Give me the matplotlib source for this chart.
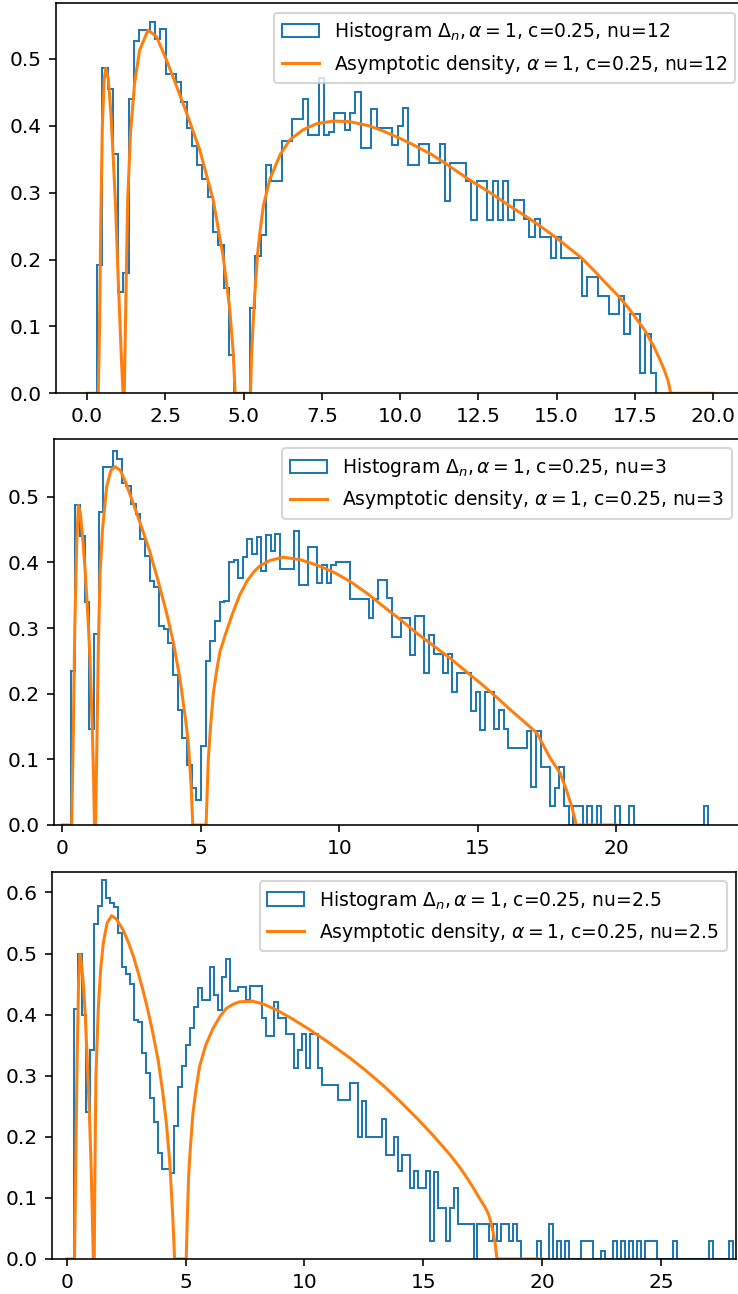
import numpy as np
import matplotlib
matplotlib.use("Agg")
import matplotlib.pyplot as plt

# ---------------- data ----------------
# Panel 1 (nu=12)
hist1_range = (0.32, 18.17)
hist1_heights = [
    0.192, 0.486, 0.455, 0.357, 0.151, 0.18, 0.44, 0.526, 0.543, 0.543,
    0.555, 0.53, 0.545, 0.478, 0.478, 0.465, 0.436, 0.396, 0.369, 0.342,
    0.32, 0.294, 0.241, 0.222, 0.158, 0.058, 0.0, 0.0, 0.0, 0.127,
    0.205, 0.236, 0.342, 0.317, 0.317, 0.377, 0.377, 0.41, 0.41, 0.44,
    0.386, 0.386, 0.471, 0.386, 0.39, 0.419, 0.419, 0.394, 0.419, 0.45,
    0.366, 0.366, 0.425, 0.397, 0.397, 0.397, 0.371, 0.40, 0.427, 0.342,
    0.342, 0.372, 0.372, 0.344, 0.344, 0.372, 0.288, 0.345, 0.345, 0.345,
    0.317, 0.259, 0.317, 0.317, 0.259, 0.317, 0.259, 0.317, 0.259, 0.289,
    0.289, 0.26, 0.233, 0.26, 0.233, 0.233, 0.202, 0.233, 0.203, 0.203,
    0.203, 0.203, 0.146, 0.174, 0.174, 0.146, 0.146, 0.118, 0.118, 0.146,
    0.088, 0.118, 0.118, 0.031, 0.088, 0.031,
]
dens1_x = [0.0, 0.36, 0.40, 0.44, 0.49, 0.55, 0.60, 0.68, 0.76, 0.84, 0.92, 0.98,
           1.04, 1.10, 1.15, 1.19, 1.25, 1.30, 1.39, 1.52, 1.68, 1.95, 2.22, 2.54,
           2.86, 3.18, 3.60, 4.03, 4.35, 4.56, 4.67, 4.73, 5.22, 5.25, 5.30, 5.36,
           5.45, 5.52, 5.63, 5.84, 6.17, 6.48, 6.90, 7.33, 7.86, 8.40, 9.00, 9.46,
           10.0, 10.52, 11.0, 11.37, 12.12, 12.87, 13.5, 14.0, 14.5, 15.0, 15.4, 15.8,
           16.2, 16.6, 17.0, 17.3, 17.8, 18.1, 18.3, 18.45, 18.56, 18.64, 20.0]
dens1_y = [0.0, 0.0, 0.10, 0.26, 0.40, 0.47, 0.486, 0.47, 0.42, 0.35, 0.27, 0.19,
           0.12, 0.05, 0.0, 0.0, 0.165, 0.29, 0.39, 0.464, 0.513, 0.543, 0.533, 0.498,
           0.459, 0.419, 0.364, 0.289, 0.204, 0.125, 0.06, 0.0, 0.0, 0.05, 0.10, 0.15,
           0.21, 0.24, 0.28, 0.32, 0.357, 0.379, 0.394, 0.403, 0.407, 0.406, 0.400, 0.392,
           0.381, 0.369, 0.357, 0.346, 0.322, 0.300, 0.28, 0.265, 0.249, 0.232, 0.217, 0.202,
           0.183, 0.163, 0.144, 0.127, 0.095, 0.07, 0.05, 0.033, 0.018, 0.0, 0.0]

# Panel 2 (nu=3)
hist2_range = (0.30, 23.32)
hist2_heights = [
    0.234, 0.488, 0.441, 0.34, 0.146, 0.291, 0.477, 0.545, 0.545, 0.57,
    0.557, 0.521, 0.516, 0.489, 0.474, 0.435, 0.41, 0.372, 0.363, 0.303,
    0.298, 0.278, 0.229, 0.175, 0.133, 0.092, 0.056, 0.038, 0.12, 0.25,
    0.28, 0.311, 0.34, 0.341, 0.40, 0.403, 0.377, 0.408, 0.435, 0.413,
    0.438, 0.387, 0.442, 0.417, 0.444, 0.39, 0.39, 0.39, 0.448, 0.366,
    0.366, 0.423, 0.423, 0.368, 0.396, 0.368, 0.396, 0.401, 0.401, 0.401,
    0.345, 0.345, 0.345, 0.345, 0.315, 0.345, 0.373, 0.373, 0.346, 0.287,
    0.287, 0.316, 0.316, 0.259, 0.318, 0.318, 0.231, 0.289, 0.26, 0.26,
    0.231, 0.26, 0.202, 0.231, 0.231, 0.231, 0.174, 0.202, 0.145, 0.202,
    0.202, 0.146, 0.175, 0.146, 0.117, 0.117, 0.117, 0.117, 0.143, 0.058,
    0.143, 0.088, 0.088, 0.029, 0.057, 0.088, 0.029, 0.0, 0.029, 0.029,
    0.0, 0.029, 0.0, 0.029, 0.0, 0.0, 0.0, 0.029, 0.0, 0.0,
    0.029, 0.0, 0.0, 0.0, 0.0, 0.0, 0.0, 0.0, 0.0, 0.0,
    0.0, 0.0, 0.0, 0.0, 0.0, 0.0, 0.029,
]
dens2_x = [0.0, 0.34, 0.40, 0.45, 0.52, 0.58, 0.65, 0.73, 0.82, 0.92, 1.00, 1.08,
           1.13, 1.16, 1.20, 1.24, 1.30, 1.36, 1.45, 1.60, 1.75, 1.90, 2.10, 2.30,
           2.56, 2.85, 3.17, 3.47, 3.77, 4.00, 4.25, 4.45, 4.55, 4.65, 4.71, 5.19,
           5.23, 5.27, 5.35, 5.45, 5.57, 5.69, 5.90, 6.17, 6.40, 6.66, 6.90, 7.14,
           7.50, 7.98, 8.60, 9.18, 9.80, 10.39, 11.0, 11.59, 12.2, 12.80, 13.4, 14.0,
           14.6, 15.21, 15.8, 16.16, 16.6, 17.13, 17.61, 17.97, 18.2, 18.39, 18.51,
           18.55, 20.0]
dens2_y = [0.0, 0.0, 0.15, 0.30, 0.43, 0.487, 0.475, 0.44, 0.39, 0.32, 0.254, 0.15,
           0.07, 0.0, 0.0, 0.10, 0.27, 0.38, 0.45, 0.515, 0.54, 0.546, 0.54, 0.52,
           0.49, 0.455, 0.415, 0.37, 0.322, 0.28, 0.222, 0.16, 0.125, 0.06, 0.0, 0.0,
           0.05, 0.10, 0.15, 0.20, 0.235, 0.264, 0.292, 0.325, 0.35, 0.371, 0.385, 0.395,
           0.403, 0.408, 0.404, 0.396, 0.385, 0.371, 0.353, 0.333, 0.313, 0.292, 0.273, 0.254,
           0.233, 0.212, 0.19, 0.176, 0.16, 0.14, 0.102, 0.079, 0.053, 0.028, 0.008,
           0.0, 0.0]

# Panel 3 (nu=2.5)
hist3_range = (0.31, 28.04)
hist3_heights = [
    0.409, 0.499, 0.40, 0.24, 0.342, 0.549, 0.578, 0.62, 0.591, 0.582,
    0.577, 0.533, 0.478, 0.467, 0.45, 0.391, 0.388, 0.338, 0.304, 0.263,
    0.225, 0.173, 0.148, 0.148, 0.14, 0.218, 0.282, 0.316, 0.351, 0.378,
    0.413, 0.443, 0.424, 0.424, 0.478, 0.432, 0.408, 0.462, 0.491, 0.439,
    0.439, 0.446, 0.446, 0.424, 0.447, 0.447, 0.447, 0.394, 0.365, 0.365,
    0.421, 0.394, 0.394, 0.369, 0.369, 0.312, 0.342, 0.369, 0.312, 0.369,
    0.369, 0.312, 0.285, 0.285, 0.285, 0.285, 0.26, 0.26, 0.26, 0.2875,
    0.2875, 0.20, 0.259, 0.20, 0.20, 0.20, 0.20, 0.229, 0.17, 0.17,
    0.20, 0.1445, 0.17, 0.17, 0.1157, 0.144, 0.1157, 0.1157, 0.144, 0.029,
    0.143, 0.083, 0.083, 0.029, 0.083, 0.116, 0.058, 0.058, 0.058, 0.058,
    0.0, 0.058, 0.058, 0.058, 0.029, 0.058, 0.029, 0.058, 0.058, 0.029,
    0.058, 0.029, 0.0, 0.0, 0.0, 0.0, 0.029, 0.0, 0.0, 0.058,
    0.0, 0.029, 0.0, 0.029, 0.0, 0.0, 0.0, 0.029, 0.029, 0.029,
    0.0, 0.0, 0.013, 0.0, 0.0, 0.029, 0.0, 0.029, 0.0, 0.029,
    0.0, 0.029, 0.0, 0.029, 0.029, 0.029, 0.0, 0.0, 0.0, 0.0,
    0.029, 0.0, 0.0, 0.0, 0.0, 0.0, 0.0, 0.0, 0.0, 0.029,
    0.0, 0.0, 0.0, 0.0, 0.029,
]
dens3_x = [0.0, 0.33, 0.38, 0.44, 0.50, 0.56, 0.63, 0.70, 0.77, 0.86, 0.95, 1.03,
           1.08, 1.12, 1.16, 1.19, 1.23, 1.33, 1.43, 1.54, 1.70, 1.89, 2.10, 2.38,
           2.60, 2.81, 3.00, 3.23, 3.43, 3.63, 3.85, 4.05, 4.20, 4.33, 4.42, 4.47,
           4.54, 5.03, 5.07, 5.13, 5.20, 5.31, 5.45, 5.59, 5.85, 6.15, 6.45, 6.71,
           7.00, 7.27, 7.82, 8.30, 8.81, 9.50, 10.2, 11.0, 11.92, 12.6, 13.32, 14.0,
           14.72, 15.4, 16.12, 16.5, 16.82, 17.1, 17.39, 17.6, 17.74, 17.85, 17.95,
           18.03, 18.09, 18.12, 20.0]
dens3_y = [0.0, 0.0, 0.15, 0.33, 0.45, 0.499, 0.48, 0.45, 0.408, 0.33, 0.244, 0.15,
           0.07, 0.0, 0.0, 0.15, 0.30, 0.41, 0.475, 0.517, 0.55, 0.562, 0.556, 0.538,
           0.518, 0.495, 0.47, 0.437, 0.405, 0.369, 0.325, 0.271, 0.22, 0.162, 0.10, 0.064,
           0.0, 0.0, 0.06, 0.135, 0.18, 0.238, 0.28, 0.315, 0.35, 0.377, 0.397, 0.41,
           0.417, 0.421, 0.422, 0.417, 0.408, 0.393, 0.376, 0.355, 0.329, 0.308, 0.284, 0.259,
           0.231, 0.203, 0.171, 0.152, 0.134, 0.117, 0.098, 0.085, 0.074, 0.06, 0.042,
           0.025, 0.004, 0.0, 0.0]

nu_labels = ["12", "3", "2.5"]
y_tops = [0.583, 0.588, 0.634]
x_lims = [(-1.0, 21.0), (-0.30, 24.5), (-0.63, 28.16)]

# ---------------- figure ----------------
DPI = 145
fig = plt.figure(figsize=(738 / DPI, 1294 / DPI), dpi=DPI)
W, H = 738.0, 1294.0
# axes boxes in pixels: left, right, top, bottom
boxes = [(55.7, 744.6, 3.3, 393.3), (54.0, 741.0, 439.0, 825.0), (51.7, 736.0, 871.7, 1259.0)]

panels = [
    (hist1_range, hist1_heights, dens1_x, dens1_y),
    (hist2_range, hist2_heights, dens2_x, dens2_y),
    (hist3_range, hist3_heights, dens3_x, dens3_y),
]

for i, (hr, hh, dx, dy) in enumerate(panels):
    l, r, t, b = boxes[i]
    ax = fig.add_axes([l / W, (H - b) / H, (r - l) / W, (b - t) / H])
    heights = np.asarray(hh)
    edges = np.linspace(hr[0], hr[1], len(heights) + 1)
    centers = 0.5 * (edges[:-1] + edges[1:])
    ax.hist(centers, bins=edges, weights=heights, histtype="step", color="C0",
            label=r"Histogram $\Delta_n, \alpha=1$, c=0.25, nu=" + nu_labels[i])
    ax.plot(dx, dy, color="C1",
            label=r"Asymptotic density, $\alpha=1$, c=0.25, nu=" + nu_labels[i])
    ax.set_xlim(*x_lims[i])
    ax.set_ylim(0, y_tops[i])
    ax.legend(loc="upper right", fontsize=9.3)

fig.savefig("out.png", dpi=DPI)
